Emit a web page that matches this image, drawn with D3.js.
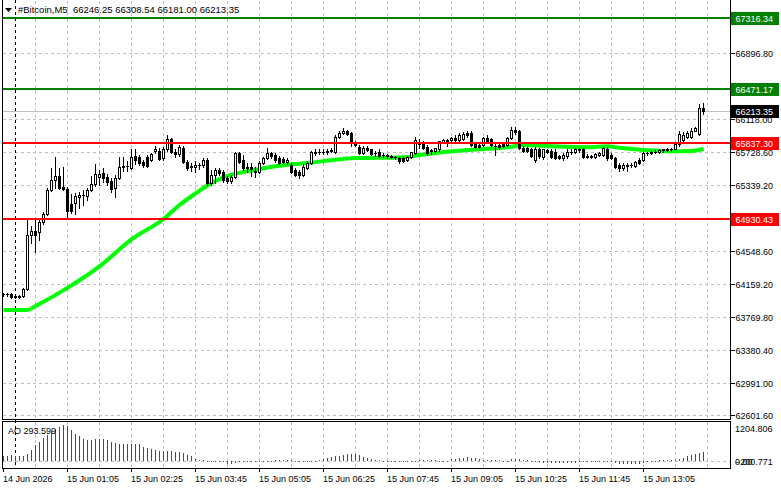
<!DOCTYPE html>
<html><head><meta charset="utf-8">
<script src="https://cdn.jsdelivr.net/npm/d3@7"></script>
<style>
html,body{margin:0;padding:0;background:#fff;overflow:hidden}
svg{display:block}
text{font-family:"Liberation Sans",Arial,sans-serif;font-size:9px;fill:#000;white-space:pre}
</style>
</head><body><div id="chart"></div>
<script>
const symbolTitle = "#Bitcoin,M5  66246.25 66308.54 66181.00 66213.35";
const aoTitle = "AO 293.599";

const opens = [
64037,64044,64040,64014,64011,64020,64099,64739,64792,64781,
64899,64995,65280,65399,65446,65316,65292,65114,65126,65197,
65215,65209,65280,65351,65434,65482,65434,65387,65304,65423,
65553,65565,65541,65684,65672,65613,65672,65637,65744,65744,
65660,65756,65875,65732,65708,65779,65613,65553,65553,65569,
65569,65637,65363,65458,65518,65494,65423,65387,65434,65720,
65637,65553,65553,65506,65494,65601,65660,65720,65696,65660,
65649,65613,65577,65518,65494,65458,65541,65601,65720,65726,
65726,65732,65738,65732,65910,65946,65970,65946,65839,65791,
65720,65779,65756,65720,65726,65696,65690,65678,65672,65654,
65654,65637,65672,65720,65839,65827,65791,65744,65744,65756,
65845,65863,65863,65898,65863,65875,65952,65952,65821,65815,
65815,65892,65875,65803,65815,65821,65815,65892,65993,65970,
65779,65773,65756,65637,65756,65672,65750,65744,65732,65678,
65660,65678,65732,65732,65756,65756,65678,65672,65672,65690,
65696,65767,65696,65654,65577,65541,65571,65577,65565,65637,
65637,65714,65714,65732,65726,65750,65756,65756,65762,65821,
65863,65910,65904,65981,65934,66246.25];
const highs = [
64055,64055,64055,64032,64032,64115,64923,64844,64923,64947,
65018,65304,65541,65672,65541,65545,65316,65232,65244,65256,
65280,65304,65438,65589,65518,65541,65470,65423,65458,65672,
65672,65616,65756,65767,65696,65637,65696,65720,65797,65779,
65785,65928,65898,65756,65815,65803,65637,65601,65616,65601,
65660,65660,65518,65541,65541,65518,65446,65458,65732,65732,
65696,65601,65601,65553,65625,65672,65779,65732,65720,65684,
65672,65660,65601,65541,65518,65589,65625,65744,65756,65756,
65756,65767,65779,65922,65970,66005,65993,65958,65851,65815,
65803,65797,65767,65744,65756,65720,65708,65696,65684,65672,
65672,65684,65732,65910,65875,65851,65815,65767,65779,65851,
65875,65886,65910,65922,65946,65958,65970,65970,65839,65827,
65910,65922,65898,65827,65827,65839,65910,66017,66017,65993,
65803,65791,65779,65791,65779,65767,65767,65767,65756,65696,
65720,65756,65756,65779,65779,65779,65708,65696,65720,65726,
65791,65791,65720,65672,65601,65601,65601,65601,65625,65660,
65732,65732,65744,65750,65756,65767,65773,65779,65839,65970,
65958,65970,66005,66023,66300,66308.54];
const lows = [
64020,64020,63996,63990,63996,64008,64091,64650,64543,64686,
64876,64983,65268,65304,65292,65280,64947,65006,64995,65066,
65102,65161,65268,65327,65339,65375,65339,65256,65197,65411,
65498,65498,65530,65589,65577,65553,65553,65625,65720,65637,
65637,65744,65720,65672,65684,65601,65518,65506,65494,65530,
65553,65339,65339,65363,65458,65375,65363,65363,65423,65601,
65518,65494,65446,65434,65482,65589,65649,65660,65613,65589,
65601,65589,65482,65446,65423,65446,65530,65589,65696,65708,
65708,65708,65726,65720,65898,65934,65922,65803,65803,65708,
65708,65744,65696,65684,65672,65672,65660,65654,65649,65601,
65613,65625,65660,65708,65779,65767,65696,65708,65732,65744,
65833,65803,65851,65851,65851,65863,65910,65803,65779,65779,
65803,65851,65803,65696,65767,65791,65803,65886,65934,65756,
65732,65732,65672,65613,65660,65649,65720,65660,65649,65649,
65637,65660,65708,65720,65732,65660,65660,65654,65660,65684,
65684,65637,65649,65541,65506,65518,65506,65553,65553,65589,
65625,65696,65702,65714,65720,65732,65744,65744,65756,65803,
65851,65898,65898,65970,65922,66181.00];
const closes = [
64044,64037,64004,64008,64023,64099,64745,64792,64745,64899,
64995,65280,65399,65446,65304,65292,65030,65030,65209,65221,
65221,65280,65351,65470,65470,65423,65375,65292,65423,65553,
65565,65559,65672,65637,65601,65577,65565,65708,65767,65649,
65756,65875,65732,65708,65791,65613,65541,65565,65577,65571,
65637,65363,65458,65518,65482,65399,65387,65434,65720,65613,
65541,65541,65530,65494,65601,65660,65720,65684,65637,65601,
65613,65637,65494,65458,65458,65553,65601,65732,65726,65732,
65732,65738,65750,65910,65946,65970,65934,65839,65815,65720,
65779,65750,65708,65714,65684,65690,65684,65672,65666,65625,
65625,65672,65732,65863,65827,65779,65720,65750,65773,65851,
65863,65857,65898,65863,65922,65934,65928,65815,65791,65791,
65892,65857,65815,65797,65785,65797,65892,65993,65958,65779,
65744,65744,65684,65767,65678,65756,65732,65672,65660,65654,
65696,65732,65726,65756,65750,65672,65672,65678,65702,65720,
65773,65654,65660,65553,65536,65577,65565,65571,65613,65601,
65714,65720,65732,65726,65750,65756,65750,65762,65821,65934,
65922,65946,65981,66011,66243,66213.35];

// moving average: [bar index, price]
const maPoints = [
[0,63853],[6,63853],[8,63900],[16,64115],[24,64370],[32,64690],[40,64932],[44,65098],
[48,65234],[52,65358],[56,65442],[60,65489],[64,65525],[68,65557],[72,65580],[76,65595],
[80,65618],[84,65640],[88,65655],[94,65657],[100,65664],[104,65690],[110,65726],[118,65756],
[127,65788],[130,65809],[137,65795],[146,65783],[151,65795],[154,65776],[162,65744],[167,65735],
[172,65738],[175,65762]];

const aoValues = [
173,175,204,173,168,163,235,357,510,592,
714,816,918,1000,1051,1102,1071,949,847,765,
683,663,659,673,678,683,663,602,561,541,
537,520,524,527,530,439,408,377,357,316,
314,312,310,296,275,255,204,153,71,51,
31,20,18,17,10,-20,-71,-67,-51,-20,
-10,-4,-1,8,6,5,4,20,31,41,
31,34,29,20,-5,-20,-22,-5,10,31,
71,102,133,153,173,204,235,238,230,184,
133,102,71,51,31,27,22,19,17,15,
13,11,10,20,40,48,52,55,30,25,
22,20,71,82,100,104,122,120,102,71,
51,49,47,45,31,22,20,60,68,72,
50,30,5,2,-20,-51,-53,-50,-48,-46,
-44,-50,-52,-54,-30,-28,-26,-20,-18,-16,
-15,-14,-30,-51,-71,-73,-82,-80,-78,-70,
-51,0,10,20,30,32,34,51,55,71,
102,153,184,224,255,293.599];

const greenLevels = [67316.34, 66471.17];
const redLevels = [65837.30, 64930.43];
const lastPrice = 66213.35;
const yTickValues = [66896.80, 66118.00, 65728.60, 65339.20, 64548.60, 64159.20, 63769.80, 63380.40, 62991.00, 62601.60];
const aoScaleMax = 1204.806, aoScaleMin = -200.771;
const timeLabels = ["14 Jun 2026","15 Jun 01:05","15 Jun 02:25","15 Jun 03:45","15 Jun 05:05","15 Jun 06:25","15 Jun 07:45","15 Jun 09:05","15 Jun 10:25","15 Jun 11:45","15 Jun 13:05"];
const timeLabelBars = [0,16,32,48,64,80,96,112,128,144,160];
const daySeparatorBar = 3;

const W = 781, H = 489;
const L = 2, R = 730, mainTop = 0, mainBottom = 419, aoTop = 421, aoBottom = 468;
const n = closes.length;

const svg = d3.select("#chart").append("svg").attr("width", W).attr("height", H)
  .attr("shape-rendering", "crispEdges");

const xs = d3.scaleLinear().domain([0, n - 1]).range([3.5, 703.5]);
const y = d3.scaleLinear().domain([62560, 67505]).range([419, 2]);
const ya = d3.scaleLinear().domain([aoScaleMin, aoScaleMax]).range([468, 422]);
const px = v => Math.round(v);

const gridColor = "#c0c0c0";
svg.append("g").selectAll("line").data(yTickValues).join("line")
  .attr("x1", L + 1).attr("x2", R).attr("y1", d => px(y(d)) + 0.5).attr("y2", d => px(y(d)) + 0.5)
  .attr("stroke", gridColor).attr("stroke-dasharray", "3,3");
const vGrid = d3.range(8, n + 8, 8).filter(i => xs(i) < R);
svg.append("g").selectAll("line").data(vGrid).join("line")
  .attr("x1", d => Math.floor(xs(d)) + 0.5).attr("x2", d => Math.floor(xs(d)) + 0.5)
  .attr("y1", mainTop + 1).attr("y2", mainBottom)
  .attr("stroke", gridColor).attr("stroke-dasharray", "3,3");
svg.append("g").selectAll("line").data(vGrid).join("line")
  .attr("x1", d => Math.floor(xs(d)) + 0.5).attr("x2", d => Math.floor(xs(d)) + 0.5)
  .attr("y1", aoTop + 1).attr("y2", aoBottom)
  .attr("stroke", gridColor).attr("stroke-dasharray", "3,3");
svg.append("line").attr("x1", L + 1).attr("x2", R)
  .attr("y1", px(ya(0)) + 0.5).attr("y2", px(ya(0)) + 0.5)
  .attr("stroke", gridColor).attr("stroke-dasharray", "3,3");

svg.append("line").attr("x1", L + 1).attr("x2", R)
  .attr("y1", px(y(lastPrice)) + 0.5).attr("y2", px(y(lastPrice)) + 0.5)
  .attr("stroke", "#c0c0c0");

svg.append("line").attr("x1", Math.floor(xs(daySeparatorBar)) + 0.5).attr("x2", Math.floor(xs(daySeparatorBar)) + 0.5)
  .attr("y1", mainTop).attr("y2", aoBottom).attr("stroke", "#000").attr("stroke-dasharray", "3,3");

svg.append("path").datum(maPoints)
  .attr("d", d3.line().curve(d3.curveMonotoneX).x(d => xs(d[0])).y(d => y(d[1])))
  .attr("fill", "none").attr("stroke", "#00ff00").attr("stroke-width", 4)
  .attr("shape-rendering", "auto");

const idx = d3.range(n);
const cg = svg.append("g");
cg.selectAll(".wick").data(idx).join("rect")
  .attr("x", i => Math.floor(xs(i))).attr("width", 1)
  .attr("y", i => px(y(highs[i])))
  .attr("height", i => Math.max(1, px(y(lows[i])) - px(y(highs[i])) + 1))
  .attr("fill", "#000");
cg.selectAll(".body").data(idx).join("rect")
  .each(function (i) {
    const cx = Math.floor(xs(i));
    const a = px(y(opens[i])), b = px(y(closes[i]));
    const top = Math.min(a, b), bot = Math.max(a, b);
    const sel = d3.select(this);
    if (bot - top < 2) {
      sel.attr("x", cx - 1).attr("y", top).attr("width", 3).attr("height", Math.max(1, bot - top + 1)).attr("fill", "#000");
    } else if (closes[i] > opens[i]) {
      sel.attr("x", cx - 0.5).attr("y", top + 0.5).attr("width", 2).attr("height", bot - top)
        .attr("fill", "#fff").attr("stroke", "#000").attr("stroke-width", 1);
    } else {
      sel.attr("x", cx - 1).attr("y", top).attr("width", 3).attr("height", bot - top + 1).attr("fill", "#000");
    }
  });

const levels = greenLevels.map(v => ({ v, c: "#008000" })).concat(redLevels.map(v => ({ v, c: "#ff0000" })));
svg.append("g").selectAll("rect").data(levels).join("rect")
  .attr("x", L + 1).attr("width", R - L - 1)
  .attr("y", d => px(y(d.v)) - 1).attr("height", 2)
  .attr("fill", d => d.c);

svg.append("g").selectAll("rect").data(idx).join("rect")
  .attr("x", i => Math.floor(xs(i))).attr("width", 1)
  .attr("y", i => Math.min(px(ya(aoValues[i])), px(ya(0))))
  .attr("height", i => Math.max(1, Math.abs(px(ya(aoValues[i])) - px(ya(0)))))
  .attr("fill", i => (i === 0 || aoValues[i] >= aoValues[i - 1]) ? "#008000" : "#ff0000");

const fr = svg.append("g").attr("stroke", "#000").attr("fill", "none");
fr.append("line").attr("x1", L + 0.5).attr("x2", L + 0.5).attr("y1", 0).attr("y2", mainBottom + 1);
fr.append("line").attr("x1", R + 0.5).attr("x2", R + 0.5).attr("y1", 0).attr("y2", mainBottom + 1);
fr.append("line").attr("x1", L).attr("x2", R + 1).attr("y1", mainBottom + 0.5).attr("y2", mainBottom + 0.5);
fr.append("rect").attr("x", L + 0.5).attr("y", aoTop + 0.5).attr("width", R - L).attr("height", aoBottom - aoTop);

svg.append("g").selectAll("line").data(yTickValues).join("line")
  .attr("x1", R + 1).attr("x2", R + 5).attr("y1", d => px(y(d)) + 0.5).attr("y2", d => px(y(d)) + 0.5)
  .attr("stroke", "#000");
svg.append("g").selectAll("text").data(yTickValues).join("text")
  .attr("x", 735.5).attr("y", d => px(y(d)) + 3.5).text(d => d3.format(".2f")(d));

const boxes = levels.concat([{ v: lastPrice, c: "#000" }]);
const bg = svg.append("g").selectAll("g").data(boxes).join("g");
bg.append("rect").attr("x", R + 1).attr("width", 48).attr("height", 13)
  .attr("y", d => px(y(d.v)) - 6).attr("fill", d => d.c);
bg.append("text").attr("x", 735.5).attr("y", d => px(y(d.v)) + 3.5)
  .style("fill", "#fff").text(d => d3.format(".2f")(d.v));

svg.append("text").attr("x", 735).attr("y", 431.5).text(d3.format(".3f")(aoScaleMax));
svg.append("text").attr("x", 735).attr("y", 464.5).text(d3.format(".3f")(aoScaleMin));
svg.append("text").attr("x", 735).attr("y", 464.5).text("0.00");
svg.append("text").attr("x", 8).attr("y", 433.5).text(aoTitle);

svg.append("g").selectAll("line").data(timeLabelBars).join("line")
  .attr("x1", i => Math.floor(xs(i)) + 0.5).attr("x2", i => Math.floor(xs(i)) + 0.5)
  .attr("y1", aoBottom + 1).attr("y2", aoBottom + 4).attr("stroke", "#000");
svg.append("g").selectAll("text").data(timeLabelBars).join("text")
  .attr("x", i => Math.floor(xs(i))).attr("y", 481.5)
  .text((d, k) => timeLabels[k]);

svg.append("path").attr("d", "M5,8 L12,8 L8.5,12 Z").attr("fill", "#000").attr("shape-rendering", "auto");
svg.append("text").attr("x", 18).attr("y", 13).style("font-size", "9.5px").text(symbolTitle);
</script>
</body></html>
